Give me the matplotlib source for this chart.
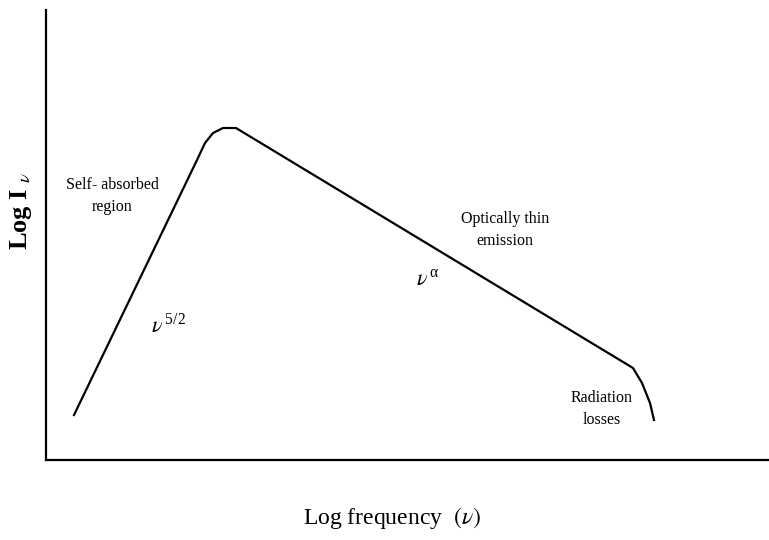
import matplotlib
matplotlib.use('Agg')
import matplotlib.pyplot as plt

plt.rcParams['font.family'] = 'Liberation Serif'
plt.rcParams['mathtext.fontset'] = 'stix'

# spectrum shape (arbitrary log units)
log_freq = [28, 151, 159, 167, 177, 190, 587, 596, 604, 608]
log_int = [45, 300, 317, 327, 332, 332, 92, 77, 57, 40]

# region labels: (text, x, y, size)
labels = [
    ('Self- absorbed\nregion', 66, 264, 11.5),
    (r'$\nu^{\,\mathregular{5/2}}$', 122, 134, 16),
    ('Optically thin\nemission', 459, 230, 11.5),
    (r'$\nu^{\,\mathregular{\alpha}}$', 382, 181, 16),
    ('Radiation\nlosses', 556, 51, 11.5),
]

fig = plt.figure(figsize=(7.69, 5.40), dpi=100)
ax = fig.add_axes([46 / 769, 80 / 540, 723 / 769, 450 / 540])

ax.plot(log_freq, log_int, color='black', lw=1.6)

for txt, x, y, size in labels:
    ax.text(x, y, txt, ha='center', va='center', fontsize=size, linespacing=1.45)

ax.set_xlim(0, 723)
ax.set_ylim(0, 450)
ax.set_xticks([])
ax.set_yticks([])
for side in ['top', 'right']:
    ax.spines[side].set_visible(False)
for side in ['left', 'bottom']:
    ax.spines[side].set_linewidth(1.6)

fig.text(392 / 769, 1 - 518 / 540, r'Log frequency  $(\nu)$', ha='center', va='center',
         fontsize=17)
fig.text(21 / 769, 1 - 211 / 540, r'Log I $_{\nu}$', ha='center', va='center',
         rotation=90, fontsize=19, fontweight='bold')

fig.savefig('out.png', dpi=100)
